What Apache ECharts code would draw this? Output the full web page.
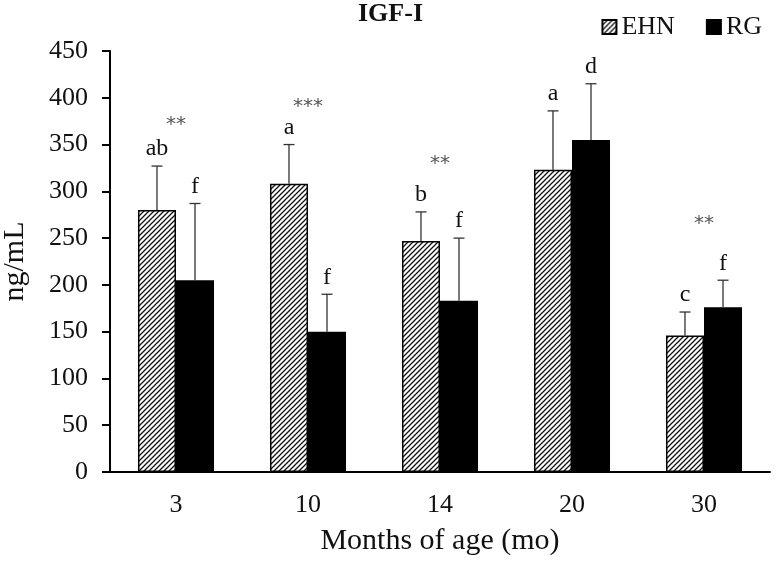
<!DOCTYPE html>
<html><head><meta charset="utf-8">
<script src="https://cdn.jsdelivr.net/npm/echarts@6/dist/echarts.min.js"></script>
<style>html,body{margin:0;padding:0;background:#fff}#c{width:776px;height:563px}</style>
</head><body><div id="c"></div>
<script>
// ---- data ----
const categories = ['3', '10', '14', '20', '30'];
const ehnValues = [280, 308, 247, 323, 146];
const ehnErrTop = [327, 350, 278, 386, 171];
const rgValues = [205, 150, 183, 355, 176];
const rgErrTop = [287, 190, 250, 415, 205];
const ehnLetters = ['ab', 'a', 'b', 'a', 'c'];
const rgLetters = ['f', 'f', 'f', 'd', 'f'];
const sigMarks = ['**', '***', '**', '', '**'];
const sigAt = [374, 394, 333, 0, 268];
const yMin = 0, yMax = 450, yStep = 50;

// ---- hatch pattern ----
function hatch() {
  const s = 5;
  const c = document.createElement('canvas');
  c.width = s; c.height = s;
  const g = c.getContext('2d');
  g.fillStyle = '#fff'; g.fillRect(0, 0, s, s);
  g.strokeStyle = '#111'; g.lineWidth = 1.3;
  g.beginPath();
  g.moveTo(-1, s + 1); g.lineTo(s + 1, -1);
  g.moveTo(-1, 1); g.lineTo(1, -1);
  g.moveTo(s - 1, s + 1); g.lineTo(s + 1, s - 1);
  g.stroke();
  return c;
}
const hatchFill = { image: hatch(), repeat: 'repeat' };
const FONT = '"Liberation Serif", "Times New Roman", serif';
const BAR_PCT = 0.288;

function errSeries(name, vals, tops, letters, side) {
  return {
    type: 'custom',
    name: name + '-err',
    silent: true,
    z: 5,
    data: vals.map((v, i) => [i, v, tops[i]]),
    renderItem: function (params, api) {
      const i = api.value(0);
      const band = api.size([1, 0])[0];
      const off = side * band * BAR_PCT / 2;
      const p0 = api.coord([i, api.value(1)]);
      const p1 = api.coord([i, api.value(2)]);
      const x = p0[0] + off;
      const cap = 5.5;
      return {
        type: 'group',
        children: [
          { type: 'line', shape: { x1: x, y1: p0[1], x2: x, y2: p1[1] }, style: { stroke: '#333', lineWidth: 1.3 } },
          { type: 'line', shape: { x1: x - cap, y1: p1[1], x2: x + cap, y2: p1[1] }, style: { stroke: '#333', lineWidth: 1.3 } },
          { type: 'text', style: { text: letters[params.dataIndex], x: x, y: p1[1] - 5, align: 'center', verticalAlign: 'bottom', font: '24px ' + FONT, fill: '#111' } }
        ]
      };
    }
  };
}

const chart = echarts.init(document.getElementById('c'));
chart.setOption({
  animation: false,
  backgroundColor: '#fff',
  title: {
    text: 'IGF-I', left: 358, top: 1, padding: 0,
    textStyle: { fontFamily: FONT, fontWeight: 'bold', fontSize: 26, color: '#111' }
  },
  legend: {
    right: 9, top: 9, itemWidth: 14, itemHeight: 14, itemGap: 31,
    icon: 'rect',
    data: ['EHN', 'RG'],
    textStyle: { fontFamily: FONT, fontSize: 26, color: '#111' }
  },
  grid: { left: 110, right: 6, top: 51, bottom: 91, containLabel: false, outerBoundsMode: 'none' },
  xAxis: {
    type: 'category', data: categories,
    name: 'Months of age (mo)', nameLocation: 'middle', nameGap: 54,
    nameTextStyle: { fontFamily: FONT, fontSize: 30, color: '#111' },
    axisLine: { lineStyle: { color: '#000', width: 2 } },
    axisTick: { length: 8, lineStyle: { color: '#000', width: 2 } },
    axisLabel: { margin: 20, fontFamily: FONT, fontSize: 26, color: '#111' }
  },
  yAxis: {
    type: 'value', min: yMin, max: yMax, interval: yStep,
    name: 'ng/mL', nameLocation: 'middle', nameGap: 80,
    nameTextStyle: { fontFamily: FONT, fontSize: 30, color: '#111' },
    axisLine: { show: true, lineStyle: { color: '#000', width: 2 } },
    axisTick: { show: true, length: 8, lineStyle: { color: '#000', width: 2 } },
    splitLine: { show: false },
    axisLabel: { margin: 22, fontFamily: FONT, fontSize: 26, color: '#111' }
  },
  series: [
    {
      name: 'EHN', type: 'bar', data: ehnValues, barWidth: (BAR_PCT * 100) + '%', barGap: '0%',
      itemStyle: { color: hatchFill, borderColor: '#000', borderWidth: 1.5 }
    },
    {
      name: 'RG', type: 'bar', data: rgValues, barWidth: (BAR_PCT * 100) + '%', barGap: '0%',
      itemStyle: { color: '#000', borderColor: '#000', borderWidth: 1.5 }
    },
    errSeries('EHN', ehnValues, ehnErrTop, ehnLetters, -1),
    errSeries('RG', rgValues, rgErrTop, rgLetters, 1),
    {
      type: 'custom', name: 'sig', silent: true, z: 6,
      data: sigAt.map((v, i) => [i, v]),
      renderItem: function (params, api) {
        const t = sigMarks[params.dataIndex];
        if (!t) return null;
        const p = api.coord([api.value(0), api.value(1)]);
        return { type: 'text', style: { text: t, x: p[0], y: p[1] + 3, align: 'center', verticalAlign: 'middle', font: '20px "DejaVu Sans", sans-serif', fill: '#555' } };
      }
    }
  ]
});
</script>
</body></html>
